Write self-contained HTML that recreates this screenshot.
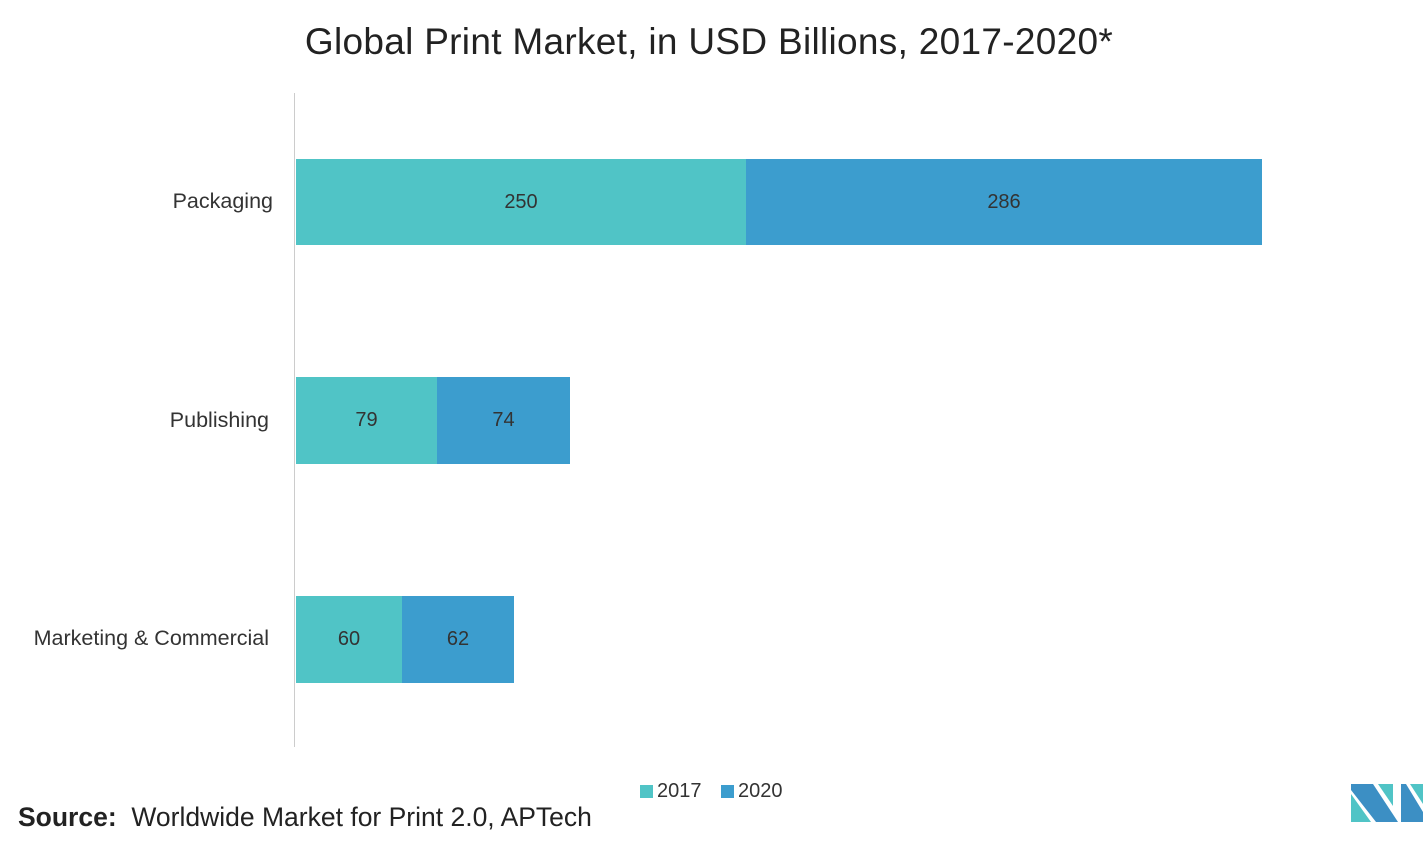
<!DOCTYPE html>
<html><head><style>
body{margin:0;width:1425px;height:853px;background:#fff;font-family:"Liberation Sans",sans-serif;position:relative;overflow:hidden;color:#333}
.t{position:absolute;white-space:nowrap}
.b{position:absolute;display:flex;align-items:center;justify-content:center;font-size:20px;color:#333}
.c{background:#50c4c6}.d{background:#3c9dce}
</style></head><body>
<div class="t" style="left:0;width:1418px;text-align:center;top:21px;font-size:37px;color:#222;letter-spacing:0.3px">Global Print Market, in USD Billions, 2017-2020*</div>
<div style="position:absolute;left:294px;top:93px;width:1px;height:654px;background:#ccc"></div>
<div class="t" style="right:1152px;top:189px;font-size:21.5px">Packaging</div>
<div class="t" style="right:1156px;top:408px;font-size:21.5px">Publishing</div>
<div class="t" style="right:1156px;top:626px;font-size:21.5px">Marketing &amp; Commercial</div>
<div class="b c" style="left:296px;top:159px;width:450px;height:86px">250</div>
<div class="b d" style="left:746px;top:159px;width:516px;height:86px">286</div>
<div class="b c" style="left:296px;top:377px;width:141px;height:87px">79</div>
<div class="b d" style="left:437px;top:377px;width:133px;height:87px">74</div>
<div class="b c" style="left:296px;top:596px;width:106px;height:87px">60</div>
<div class="b d" style="left:402px;top:596px;width:112px;height:87px">62</div>
<div class="c" style="position:absolute;left:640px;top:785px;width:13px;height:13px"></div>
<div class="t" style="left:657px;top:780px;font-size:20px">2017</div>
<div class="d" style="position:absolute;left:721px;top:785px;width:13px;height:13px"></div>
<div class="t" style="left:738px;top:780px;font-size:20px">2020</div>
<div class="t" style="left:18px;top:802px;font-size:26.5px;color:#222"><b>Source:</b>&nbsp; Worldwide Market for Print 2.0, APTech</div>
<svg style="position:absolute;left:1351px;top:784px" width="73" height="38">
<polygon points="0,0 22,0 47,38 25,38 0,6" fill="#3c8fc4"/>
<polygon points="0,10 20,38 0,38" fill="#50c4c6"/>
<polygon points="27,0 42,0 42,22" fill="#50c4c6"/>
<polygon points="50,0 55,0 72,28 72,38 50,38" fill="#3c8fc4"/>
<polygon points="59,0 72,0 72,20" fill="#50c4c6"/>
</svg>
</body></html>
